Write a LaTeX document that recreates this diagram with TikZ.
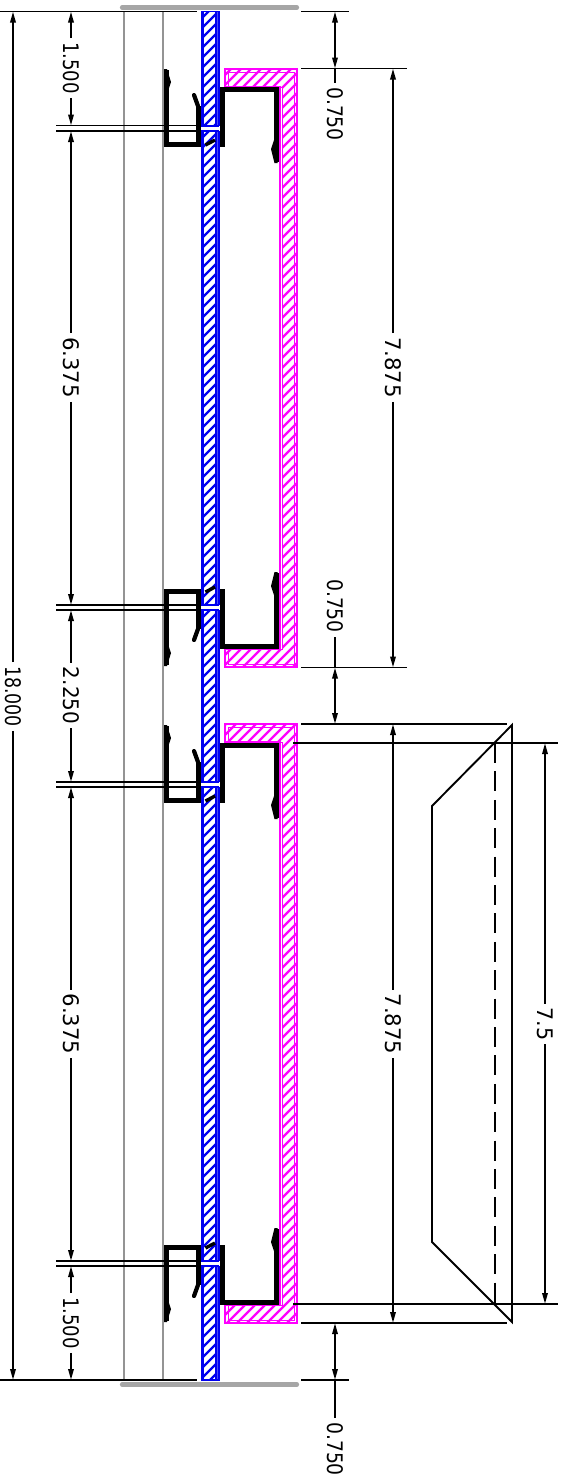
\documentclass[tikz,border=0pt]{standalone}
\usepackage{fontspec}
\usepackage{graphicx}
\setmainfont{DejaVu Sans}
\usetikzlibrary{arrows.meta}
\definecolor{magenta}{RGB}{255,0,255}
\definecolor{blue}{RGB}{0,0,240}
\tikzset{
  px/.style={x=0.5pt,y=-0.5pt},
  dimline/.style={line width=0.95pt,black},
  tipa/.style={-{Stealth[length=5.5pt,width=2.7pt,inset=0pt]}},
  tipc/.style={{Stealth[length=5.5pt,width=2.7pt,inset=0pt]}-{Stealth[length=5.5pt,width=2.7pt,inset=0pt]}},
  ext/.style={line width=0.95pt,black},
  dimtxt/.style={rotate=-90,font=\fontsize{9.4pt}{10pt}\selectfont,inner sep=0pt,outer xsep=2pt,outer ysep=2pt},
  graybar/.style={line width=2.1pt,color=black!35,line cap=round},
  grayline/.style={line width=0.8pt,color=black!42},
  profile/.style={line width=2.5pt,black,line join=miter},
  bluehatch/.style={line width=1.1pt,blue},
  maghatch/.style={line width=1.1pt,magenta},
  bluebox/.style={line width=0.9pt,blue},
  magbox/.style={line width=1.1pt,magenta},
  magin/.style={line width=0.5pt,magenta}
}
% two-way dimension broken by its label: [text stretch] name, x, y1, y2, ylabel, text
\newcommand{\dimsplit}[7][1]{%
  \coordinate (#2a) at (#3,#4);
  \coordinate (#2b) at (#3,#5);
  \node[dimtxt] (#2) at (#3,#6) {\scalebox{#1}[1.14]{#7}};
  \draw[dimline,tipa] (#2) -- (#2a);
  \draw[dimline,tipa] (#2) -- (#2b);
}
% short dimension with a leader going to its label
\newcommand{\dimshort}[7]{% name, x, y1, y2, ylabel, text, leader-end y
  \coordinate (#1a) at (#2,#3);
  \coordinate (#1b) at (#2,#4);
  \coordinate (#1c) at (#2,#7);
  \node[dimtxt] (#1) at (#2,#5) {\scalebox{1}[1.14]{#6}};
  \draw[dimline,tipc] (#1a) -- (#1b);
  \draw[dimline] (#1c) -- (#1);
}
% magenta C channel
\newcommand{\magchannel}[2]{%
  \begin{scope}
    \clip (225,#1) -- (297,#1) -- (297,#2) -- (225,#2) -- (225,\numexpr#2-18\relax) -- (282,\numexpr#2-18\relax) -- (282,\numexpr#1+18\relax) -- (225,\numexpr#1+18\relax) -- cycle;
    \foreach \c in {0,10,...,1700} \draw[maghatch] (200,\c) -- (320,\c-120);
  \end{scope}
  \draw[magbox,line join=miter] (225,#1) -- (297,#1) -- (297,#2) -- (225,#2) -- (225,\numexpr#2-18\relax) -- (280,\numexpr#2-18\relax) -- (280,\numexpr#1+18\relax) -- (225,\numexpr#1+18\relax) -- cycle;
  \draw[magin] (228,\numexpr#1+3\relax) -- (294,\numexpr#1+3\relax) -- (294,\numexpr#2-3\relax) -- (228,\numexpr#2-3\relax) -- (228,\numexpr#2-18\relax) -- (282,\numexpr#2-18\relax) -- (282,\numexpr#1+18\relax) -- (228,\numexpr#1+18\relax) -- cycle;
}
% black clip profile: y0, direction
\newcommand{\clipprofile}[2]{%
  \begin{scope}[yshift={-0.5pt*#1},yscale=#2]
    \draw[profile] (276,-18) -- (276,55) -- (222,55) -- (222,0) -- (166,0) -- (166,74);
    \draw[profile] (198,0) -- (198,38);
    \draw[line width=2.1pt,black,line cap=round] (198,38) -- (194,49);
    \fill[black] (164,75) -- (167,75) -- (171,62) -- (169,56) -- (164,56) -- cycle;
    \fill[black] (274.5,-19) -- (277.5,-19) -- (277.5,4) -- (274,4) -- (271,-5) -- cycle;
  \end{scope}
}
\begin{document}
\begin{tikzpicture}[px]
\useasboundingbox (0,0) rectangle (571,1480);
% grey verticals and bars
\draw[grayline] (124,12) -- (124,1380);
\draw[grayline] (163,12) -- (163,1380);
\draw[graybar] (122,7.5) -- (297,7.5);
\draw[graybar] (122,1384.5) -- (297,1384.5);
% magenta channels
\magchannel{69}{667}
\magchannel{724}{1323}
% black profiles
\clipprofile{144}{-1}
\clipprofile{591}{1}
\clipprofile{800}{-1}
\clipprofile{1247}{1}
% blue strip
\fill[white] (201,11.5) rectangle (219,1380);
\begin{scope}
  \clip (201,11.5) rectangle (219,1380);
  \foreach \c in {0,10,...,1700} \draw[bluehatch] (190,\c) -- (240,\c-50);
\end{scope}
\fill[blue!70] (216,11.5) rectangle (219,1380);
\draw[bluebox] (201.5,11.5) rectangle (219.3,1380);
\draw[line width=1pt,blue] (203,11.5) -- (203,1380);
\draw[line width=0.6pt,blue] (216,11.5) -- (216,1380);
\foreach \ya/\yb in {126/131,605/610,782/787,1261/1266}{
  \fill[white] (200.5,\ya) rectangle (220,\yb);
  \draw[bluebox] (201,\ya) -- (219,\ya);
  \draw[bluebox] (201,\yb) -- (219,\yb);
}
\foreach \y in {144,591,800,1247}
  \draw[line width=1.7pt,black] (205.5,\y+1) -- (215,\y-4);
% extension lines
\draw[ext] (0,11.5) -- (197,11.5);
\draw[ext] (0,1380) -- (197,1380);
\foreach \y in {125.5,605,782,1261}{\draw[ext] (56,\y) -- (197,\y);}
\foreach \y in {131,610,787,1266}{\draw[ext] (56,\y) -- (197,\y);}
\draw[ext] (301,11.5) -- (349,11.5);
\draw[ext] (301,68.5) -- (407,68.5);
\draw[ext] (301,667.5) -- (407,667.5);
\draw[ext] (301,724) -- (507,724);
\draw[ext] (293,743) -- (558,743);
\draw[ext] (293,1304) -- (558,1304);
\draw[ext] (301,1323) -- (507,1323);
\draw[ext] (301,1380) -- (349,1380);
% frame on the right
\coordinate (fa) at (512,725);
\coordinate (fb) at (432,806);
\coordinate (fc) at (432,1242);
\coordinate (fd) at (512,1322);
\draw[line width=0.95pt,black,line join=miter] (fa) -- (fb) -- (fc) -- (fd) -- cycle;
\draw[line width=1pt,black,dash pattern=on 10pt off 4.2pt] (495,743) -- (495,1304);
% left dimensions
\dimsplit[0.96]{da}{71}{11.5}{125.5}{68}{1.500}
\dimsplit[1.13]{db}{71}{131}{605}{367.5}{6.375}
\dimsplit[1.06]{dc}{71}{610}{782}{695.5}{2.250}
\dimsplit[1.13]{dd}{71}{787}{1261}{1024}{6.375}
\dimsplit[0.96]{de}{71}{1266}{1380}{1323}{1.500}
\dimsplit[0.925]{df}{13}{11.5}{1380}{696.5}{18.000}
% right dimensions
\dimsplit[1.13]{dg}{393}{68.5}{667.5}{367.5}{7.875}
\dimsplit[1.13]{dh}{393}{724}{1323}{1024}{7.875}
\dimsplit[1.1]{di}{545}{743}{1304}{1024}{7.5}
\dimshort{dj}{335}{11.5}{68.5}{114}{0.750}{68.5}
\dimshort{dk}{335}{667.5}{724}{606}{0.750}{667.5}
\dimshort{dl}{335}{1323}{1380}{1449}{0.750}{1380}
\end{tikzpicture}
\end{document}
